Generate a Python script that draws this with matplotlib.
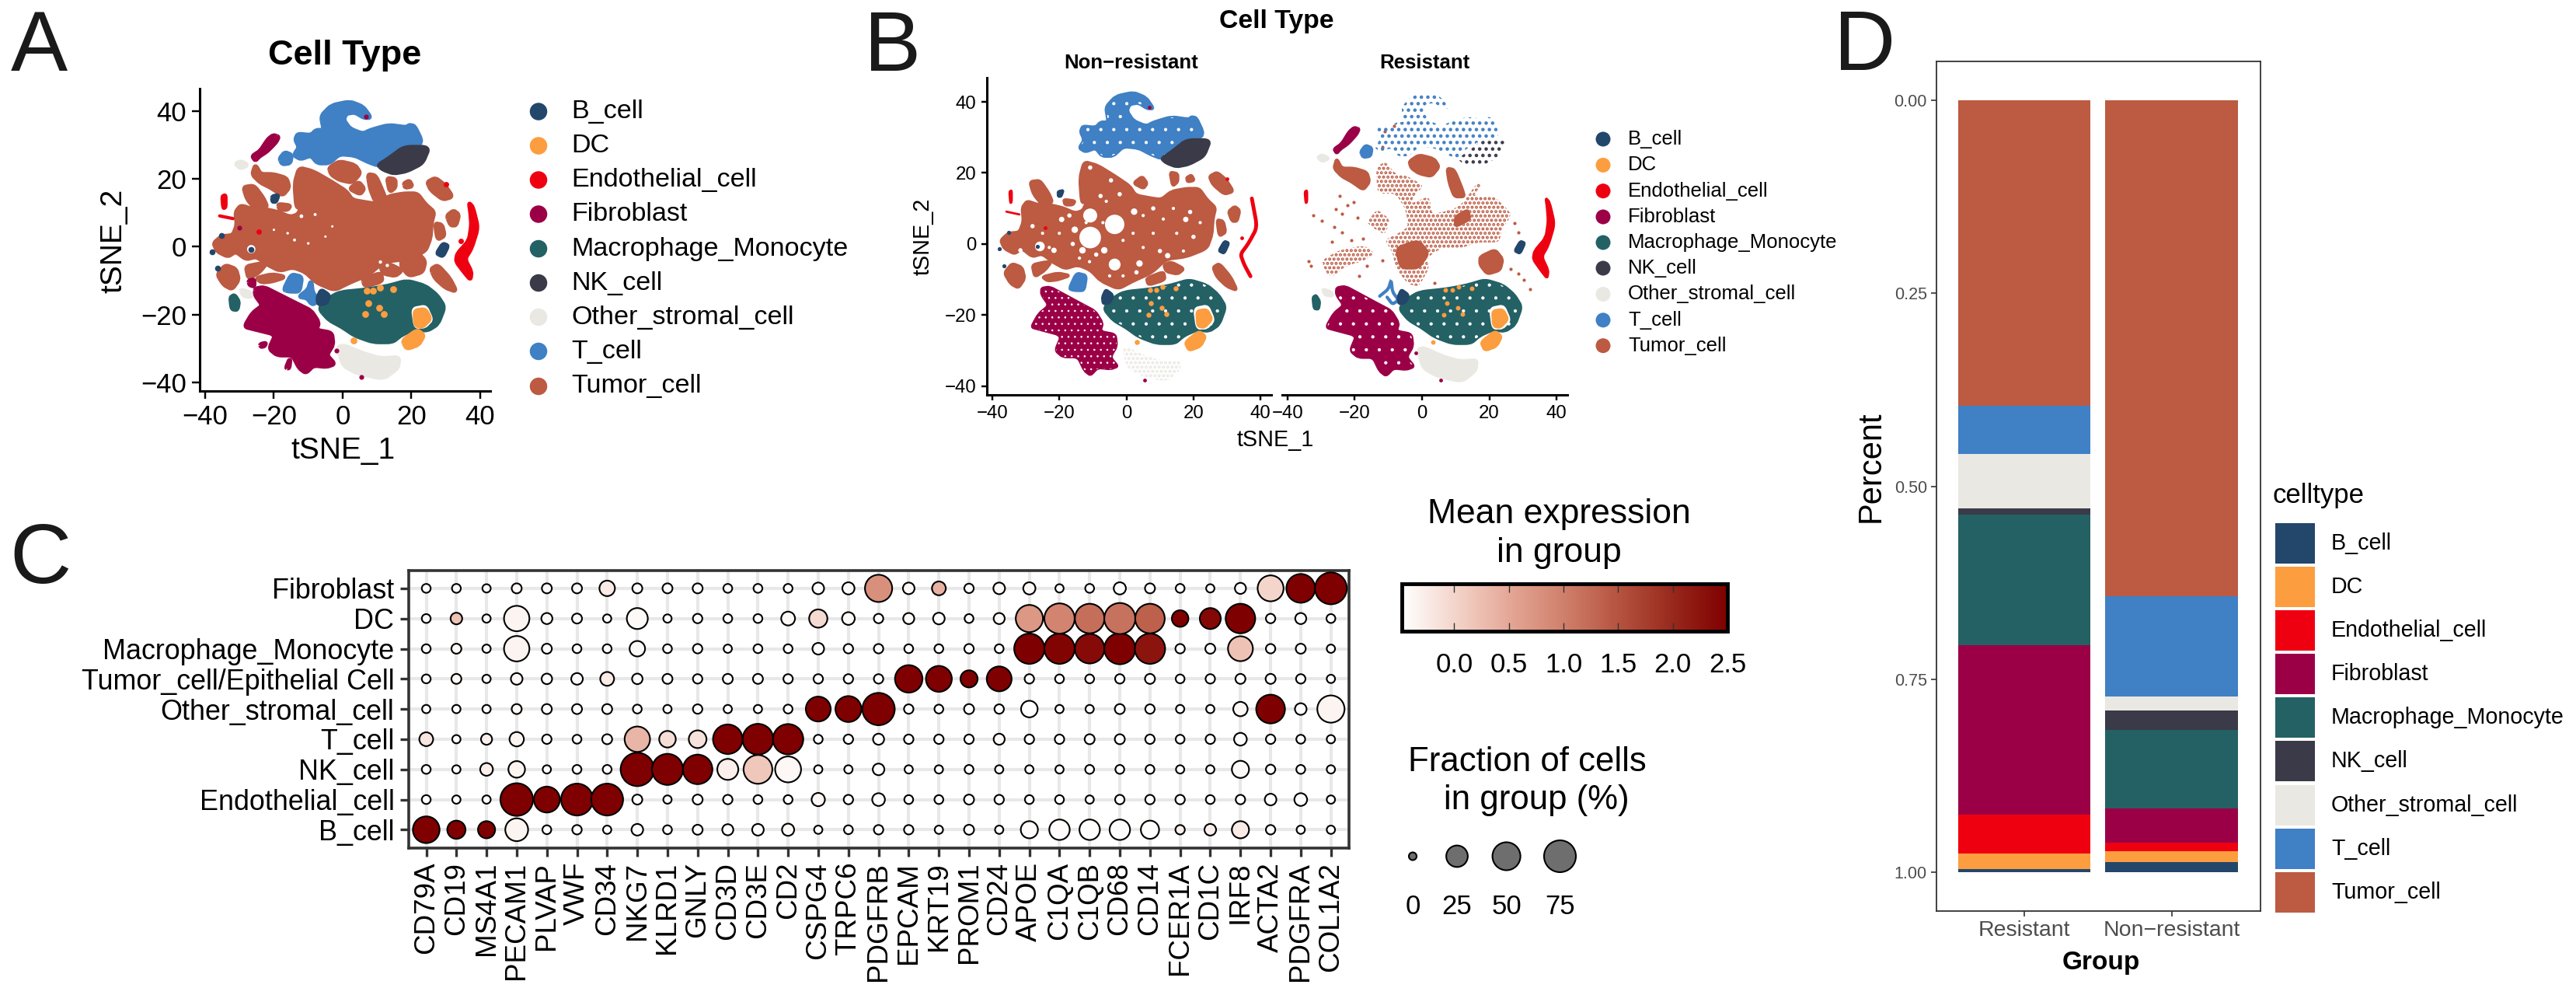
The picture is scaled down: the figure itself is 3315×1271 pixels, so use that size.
import numpy as np
import matplotlib
matplotlib.use("Agg")
import matplotlib.pyplot as plt
from matplotlib.colors import LinearSegmentedColormap
from matplotlib.patches import Rectangle, PathPatch
from matplotlib.path import Path

plt.rcParams['font.family'] = ['Liberation Sans', 'DejaVu Sans']
plt.rcParams['hatch.linewidth'] = 2.0

W, H = 3315, 1271

celltypes = ["B_cell", "DC", "Endothelial_cell", "Fibroblast", "Macrophage_Monocyte",
             "NK_cell", "Other_stromal_cell", "T_cell", "Tumor_cell"]
colors = ["#23466B", "#FC9D3F", "#EE0011", "#9B0047", "#236165",
          "#3A3A48", "#EAE8E2", "#4080C4", "#BC5A42"]
col = dict(zip(celltypes, colors))

# cluster outlines on the tSNE map
tumor_main = [(-37.5,1.0),(-35.2,3.0),(-31.9,3.3),(-30.7,6.4),(-31.1,10.2),(-29.6,12.1),(-26.2,11.0),(-22.8,11.0),
              (-19.0,10.2),(-15.3,8.7),(-13.0,9.4),(-11.9,11.7),(-13.4,11.7),(-13.9,18.6),(-12.6,23.2),(-8.5,22.1),
              (-3.2,19.0),(1.0,16.3),(2.8,13.7),(7.4,12.9),(10.4,12.5),(13.4,14.8),(17.9,15.6),(21.7,15.6),(24.0,12.5),
              (26.6,10.2),(25.8,7.1),(25.5,2.6),(24.0,-1.3),(17.9,-3.6),(11.9,-4.3),(7.4,-8.2),(2.1,-10.4),(-2.4,-12.7),
              (-7.7,-10.4),(-10.7,-7.4),(-14.5,-5.9),(-18.3,-7.0),(-22.0,-5.1),(-25.1,-2.8),(-28.1,-3.6),(-31.1,-1.3),
              (-33.4,-2.8),(-36.4,-1.3)]
tumor_t1 = [(-25.4,24.0),(-23.9,21.3),(-20.2,21.3),(-16.4,20.2),(-15.6,17.5),(-17.5,15.2),(-20.9,17.5),(-23.9,19.0),(-26.2,21.3)]
tumor_t2 = [(-28.8,17.5),(-25.8,17.9),(-23.2,14.4),(-22.0,11.7),(-25.1,11.0),(-27.7,14.0)]
tumor_oval = [(-3.9,23.2),(-0.9,25.1),(3.6,24.0),(5.1,21.7),(2.8,19.0),(-0.9,19.8),(-3.2,21.3)]
tumor_b3 = [(2.1,17.1),(4.7,19.0),(6.2,17.1),(5.1,15.6)]
tumor_strip = [(7.4,21.3),(9.6,20.9),(11.9,15.6),(12.6,13.3),(9.6,13.3),(8.1,17.1)]
tumor_b5 = [(13.0,20.2),(15.3,19.8),(15.3,17.5),(13.8,16.3)]
tumor_b6 = [(17.9,18.6),(19.4,19.4),(20.2,17.9),(18.3,17.5)]
tumor_r1 = [(24.7,19.0),(27.0,20.2),(29.6,18.2),(31.9,14.8),(29.2,14.0),(25.8,16.7)]
tumor_r2 = [(30.4,9.1),(32.3,10.6),(33.8,9.4),(33.0,6.4),(31.5,6.4)]
tumor_r3 = [(27.0,6.8),(28.9,6.4),(29.6,3.3),(27.7,2.2)]
tumor_r4 = [(17.2,-3.6),(21.7,-1.6),(24.0,-4.3),(23.2,-7.4),(19.4,-8.5),(17.2,-5.9)]
tumor_r5 = [(11.1,-5.9),(13.4,-5.1),(17.2,-7.0),(15.3,-8.5),(11.9,-7.8)]
tumor_r6 = [(5.9,-9.7),(11.1,-7.8),(11.5,-10.1),(6.6,-11.6)]
tumor_r7 = [(25.8,-6.6),(27.7,-5.5),(31.1,-9.3),(33.0,-13.1),(30.0,-12.0),(27.0,-9.3)]
tumor_l1 = [(-25.1,-9.3),(-20.5,-8.2),(-16.8,-8.9),(-20.5,-10.1),(-23.5,-10.4)]
tumor_l2 = [(-36.4,-8.2),(-34.1,-5.5),(-31.1,-6.6),(-30.3,-9.7),(-32.2,-12.4),(-34.5,-11.2)]
tumor_l3 = [(-28.1,-5.9),(-24.3,-5.1),(-22.4,-5.1),(-24.3,-7.4),(-27.3,-9.3)]
tumor_l4 = [(-18.7,12.5),(-15.3,12.1),(-16.0,11.0),(-18.3,11.0)]
# the thinner tumor areas of the resistant facet
res_main = [(-13.7,21.5),(-11,23.3),(-7.9,19.7),(-4.1,19),(0.5,16.4),(-2.5,13.5),(-3.3,11.3),(2.1,13.5),(2.9,8.4),(6.7,9.1),
            (11.3,10.6),(16.7,17.5),(17.5,16.4),(15.2,13.5),(21.4,13.5),(26.8,8.4),(23.7,4),(22.9,.4),(16,.4),(12.1,-1.1),
            (5.9,-1.1),(1.3,-4),(2.1,-6.9),(-1,-12),(-4.1,-11.3),(-7.9,-6.9),(-8.7,-2.6),(-11,1.1),(-7.9,2.6),(-4.1,4.7),
            (-4.9,9.8),(-7.9,14.2),(-13.3,14.2)]
res_mid = [(-16.4,6.2),(-13.3,9.8),(-9.5,6.9),(-11,2.6),(-14.9,4.7)]
res_ll = [(-29.9,-4.7),(-24.9,-1.8),(-17.2,-.4),(-14.1,-2.6),(-17.2,-4.7),(-22.6,-6.2),(-26.5,-9.1),(-28.4,-8.4)]
res_core = [(-7.9,-1.1),(-1,1.1),(2.1,-2.6),(-1,-6.9),(-6.4,-6.9)]
res_core2 = [(9.8,7.7),(13.7,9.8),(14.4,6.9),(9.8,4.7)]
res_dots_x = [-25.7,-24.5,-22.2,-20.3,-32.3,-29.9,-26.1,-23.8,-19.1,-23.8,-21.1,-26.9,-17.6,-33.8,-33,-18.8,-16.4,3.6,27.5,28.7,26.4,28.7,30.2,32.2,-11.8,-11.8,-11,-8.3]
res_dots_y = [9.8,13.5,10.8,11.7,8,6.6,4.7,8.4,7.3,3.3,1.1,.7,1.5,-4.9,-6.2,-9.1,-6.2,-10.9,5.8,3.3,-7.1,-8.4,-10.2,-12.8,-4.7,27.4,31.7,33.2]

t_main = [(-6.2,38.5),(-3.2,41.6),(2.1,42.7),(5.9,41.2),(8.1,38.1),(6.2,38.1),(3.6,39.7),(1.0,39.3),(0.2,37.4),(2.1,34.7),
          (5.9,33.2),(8.1,34.3),(13.4,35.8),(18.7,35.1),(19.4,35.8),(20.9,35.5),(22.8,31.6),(22.4,30.1),(17.9,29.3),(13.4,27.0),
          (10.4,24.0),(7.4,25.1),(3.6,27.0),(-0.9,27.4),(-3.9,24.7),(-7.3,24.7),(-9.2,27.0),(-12.2,25.9),(-14.1,27.0),(-12.6,29.3),
          (-13.7,31.6),(-13.0,33.2),(-9.2,32.8),(-7.7,34.3),(-5.4,34.3)]
t_small = [(-18.3,25.9),(-16.8,27.8),(-14.9,27.0),(-15.3,24.7),(-17.5,24.4)]
t_low = [(-17.1,-12.7),(-14.9,-8.2),(-11.9,-8.9),(-12.6,-13.1),(-15.3,-13.1)]
t_fork = [(-12.6,-14.7),(-10.0,-12.7),(-9.2,-10.1),(-8.8,-13.5),(-7.0,-15.8),(-8.8,-17.0),(-10.4,-15.0)]
nk_main = [(10.4,24.0),(13.4,25.9),(17.9,29.3),(25.1,29.3),(23.2,24.7),(18.7,22.4),(14.9,21.7),(11.9,22.8)]
fib_main = [(-25.4,-12.4),(-22.8,-12.0),(-18.3,-14.3),(-13.0,-17.0),(-9.2,-18.9),(-7.0,-22.3),(-7.7,-24.6),(-3.2,-25.4),(-2.8,-28.8),
            (-4.7,-31.9),(-2.4,-34.5),(-4.7,-35.3),(-8.5,-34.9),(-10.7,-37.1),(-12.6,-35.7),(-14.5,-31.9),(-19.0,-31.9),(-21.3,-30.0),
            (-19.4,-25.8),(-25.8,-24.2),(-28.5,-23.5),(-26.2,-19.6),(-23.2,-17.3),(-25.4,-14.3)]
fib_streak = [(-18.7,32.4),(-19.4,30.9),(-22.0,28.2),(-24.3,26.7),(-25.4,25.5),(-26.2,26.7),(-23.9,28.2),(-21.7,31.6),(-20.2,32.8)]
fib_s1 = [(-23.9,-28.8),(-22.4,-28.4),(-22.8,-29.2),(-23.7,-29.4)]
fib_s2 = [(-16.4,-35.7),(-15.3,-33.0),(-15.6,-35.7)]
fib_s3 = [(-27.3,-10.1),(-25.8,-9.7),(-25.8,-11.6),(-27,-11.2)]
mac_main = [(-6.6,-18.5),(-5.5,-16.2),(-0.9,-13.5),(7.4,-12.7),(13.4,-11.6),(18.7,-10.1),(24.0,-11.6),(27.4,-14.3),(29.6,-17.7),
            (27.7,-22.7),(24.7,-24.6),(21.0,-24.2),(17.2,-25.8),(14.5,-28.0),(8.9,-28.0),(3.6,-26.1),(-0.2,-23.5),(-3.9,-21.5)]
mac_small = [(-32.6,-15.0),(-31.5,-14.3),(-30.3,-16.2),(-30.7,-18.5),(-32.2,-18.3)]
dc_hole = [(20.2,-18.1),(24.3,-17.3),(26.2,-21.5),(24.0,-23.8),(21.0,-23.8)]
dc_a = [(21.0,-18.9),(24.0,-18.5),(25.5,-21.2),(23.2,-23.5),(21.3,-23.1)]
dc_b = [(17.5,-27.7),(21.7,-24.6),(23.6,-26.1),(22.1,-28.8),(18.7,-30.0)]
dc_dots_x = [7.4,6.5,10.6,11.9,14.7,8.9,7,10.8,3.2]
dc_dots_y = [-16.6,-19.9,-18,-19.8,-12.6,-13,-13,-12,-27.7]
other_main = [(-1.3,-29.6),(0.6,-29.2),(5.9,-31.5),(11.1,-33.0),(16.4,-32.6),(16.0,-35.7),(11.9,-38.8),(4.3,-37.2),(0.2,-34.9)]
other_s1 = [(-31.1,24.4),(-29.6,25.1),(-27.7,24.1),(-29.6,23.2)]
other_s2 = [(-29.6,-12.7),(-27,-13.5),(-26.6,-14.7),(-28.8,-14.4)]
endo_main = [(36.8,12.9),(37.9,11.7),(39.4,5.6),(37.5,-0.5),(35.6,-3.6),(37.5,-7.4),(37.2,-9.7),(35.3,-7.4),(33.0,-4.3),(33.4,-2.0),
             (36.8,1.8),(37.5,6.4),(37.2,10.2)]
endo_line = [(37.4,12.8),(39,4.7),(36.3,0),(34,-2.9),(35.1,-5.8),(37,-9.1)]
endo_s1 = [(-35.0,14.8),(-34.1,15.2),(-34.1,11.7),(-34.7,11.4)]
endo_s2 = [(-35.8,9.1),(-31.9,8.3)]
b_a = [(27.4,-2.0),(29.2,0.9),(30.7,0.3),(29.2,-2.8)]
b_b = [(-20.5,14.8),(-18.7,15.2),(-19.4,13.3),(-20.4,13.3)]
b_c = [(-7.3,-15.0),(-6.2,-12.7),(-3.9,-14.3),(-4.7,-16.6),(-7.0,-17.0)]
b_dots_x = [-26.6,-36.4,-37.9,-35.2]
b_dots_y = [-0.7,-6.2,-1.4,3.3]
red_dots_x = [-24.3,30,34.3]
red_dots_y = [4.5,18.4,1.8]
fib_dots_x = [-30,6.8,5.5,-1.8]
fib_dots_y = [5.6,38.4,-38.4,-30.7]
# white gaps in the tumor mass: x, y, diameter in points
gaps_x = [-3.5,-10.8,-3.5,-10.8,-25.8,-6.6,-13.1,-19.3,-15.4,2.3,12.3,17.7,3.9,-21.6,-31.6,-7.7,-4.6,-10.8,
          -20,-17,-12,-9,-6,-2,2,5,8,11,15,19,22,14,8,-1,3,-14,-25,-28,-16,-23,-11,5,10,17,-7,-1,-5,20]
gaps_y = [5.5,1.8,-5.8,8.0,-0.7,-1.8,-1.8,6.9,4.0,9.1,-3.3,6.9,-5.5,-1.8,-1.8,13.5,17.9,21.5,
          3,8,6,-3,12,14,3,-1,3,7,3,9,6,10,10,-9,-8,-4,3,5,0,-1,-5,8,-2,-2,6,1,-9,2]
gaps_d = [18,20,11,13,9,6,6,5,6,6,5,5,6,5,4,4,4,4,
          3,4,3,4,3,4,3,3,3,3,3,4,3,3,4,3,4,3,3,4,4,3,3,3,4,3,3,3,3,4]
gaps_a_x = [-26.6,-14,-12,-8,-16,-20,-3,11,13,-10,-5]
gaps_a_y = [-0.7,2,9,9.5,4,5,6,-4.5,-5.5,1,3]

# panel C
groups = ["B_cell", "Endothelial_cell", "NK_cell", "T_cell", "Other_stromal_cell",
          "Tumor_cell/Epithelial Cell", "Macrophage_Monocyte", "DC", "Fibroblast"]
genes = ["CD79A","CD19","MS4A1","PECAM1","PLVAP","VWF","CD34","NKG7","KLRD1","GNLY","CD3D","CD3E","CD2","CSPG4","TRPC6","PDGFRB",
         "EPCAM","KRT19","PROM1","CD24","APOE","C1QA","C1QB","CD68","CD14","FCER1A","CD1C","IRF8","ACTA2","PDGFRA","COL1A2"]
frac_b = [45,19,17,30,2,3,1,7,2,4,6,7,8,1,2,3,3,1,4,1,17,23,23,23,19,3,7,17,3,1,1]
frac_endo = [2,1,1,80,42,75,75,4,1,4,3,2,2,10,3,9,2,2,4,3,2,2,1,3,3,3,2,3,7,9,1]
frac_nk = [2,1,9,16,1,2,2,85,70,60,24,55,42,1,1,7,1,1,2,1,1,1,2,2,2,1,1,17,3,2,1]
frac_t = [11,1,6,12,3,2,4,40,16,18,60,68,65,2,3,6,3,3,3,6,3,3,4,4,3,2,3,9,3,2,1]
frac_other = [1,1,1,4,4,4,4,2,1,3,1,1,2,38,42,78,3,2,4,3,16,1,1,4,3,1,1,12,55,7,47]
frac_tumor = [2,4,1,7,5,7,11,5,4,3,4,4,3,3,3,3,48,42,17,38,3,2,2,3,4,2,3,4,4,3,1]
frac_mac = [2,4,1,40,4,2,2,14,2,3,1,2,2,7,3,3,2,2,3,2,65,65,60,70,65,3,4,38,3,4,1]
frac_dc = [2,7,1,40,6,4,1,24,1,3,2,2,11,19,9,3,6,7,2,6,47,65,60,70,60,16,24,60,3,6,2]
frac_fib = [2,2,1,4,4,4,14,4,4,4,2,2,2,7,8,47,7,11,3,7,8,1,2,8,4,2,1,6,42,55,75]
expr_b = [2.5,2.5,2.5,-.35,-.47,-.47,-.47,-.45,-.47,-.45,-.45,-.45,-.4,-.47,-.47,-.47,-.47,-.47,-.47,-.47,-.43,-.43,-.45,-.45,-.45,-.3,-.3,-.25,-.45,-.47,-.47]
expr_endo = [-.47,-.47,-.47,2.5,2.5,2.5,2.5,-.47,-.47,-.45,-.47,-.47,-.47,-.38,-.47,-.45,-.47,-.47,-.47,-.47,-.47,-.47,-.47,-.47,-.47,-.47,-.47,-.47,-.47,-.47,-.47]
expr_nk = [-.47,-.47,-.3,-.35,-.47,-.47,-.47,2.5,2.5,2.5,-.3,.15,-.38,-.47,-.47,-.45,-.47,-.47,-.47,-.47,-.47,-.47,-.47,-.47,-.47,-.47,-.47,-.4,-.47,-.47,-.47]
expr_t = [-.2,-.47,-.3,-.35,-.45,-.45,-.4,.35,-.1,-.15,2.5,2.5,2.5,-.47,-.47,-.47,-.47,-.47,-.47,-.4,-.47,-.47,-.47,-.47,-.47,-.47,-.47,-.45,-.47,-.47,-.47]
expr_other = [-.47,-.47,-.47,-.4,-.45,-.45,-.4,-.47,-.47,-.45,-.47,-.47,-.47,2.5,2.5,2.5,-.47,-.47,-.47,-.47,-.47,-.47,-.47,-.47,-.47,-.47,-.47,-.38,2.5,-.45,-.35]
expr_tumor = [-.45,-.4,-.45,-.38,-.45,-.42,-.25,-.45,-.45,-.45,-.45,-.45,-.45,-.45,-.45,-.45,2.5,2.5,2.5,2.5,-.45,-.47,-.47,-.47,-.47,-.47,-.47,-.47,-.47,-.47,-.47]
expr_mac = [-.45,-.4,-.45,-.35,-.45,-.45,-.45,-.4,-.47,-.45,-.47,-.47,-.45,-.45,-.45,-.45,-.45,-.45,-.45,-.45,2.5,2.45,2.35,2.5,2.25,-.45,-.45,.2,-.47,-.47,-.47]
expr_dc = [-.4,.2,-.45,-.35,-.4,-.45,-.45,-.4,-.47,-.45,-.47,-.47,-.4,-.05,-.4,-.45,-.4,-.45,-.45,-.4,.7,.95,1.2,1.15,1.35,2.5,2.4,2.5,-.45,-.45,-.45]
expr_fib = [-.45,-.45,-.45,-.38,-.4,-.4,-.25,-.45,-.45,-.45,-.47,-.47,-.45,-.45,-.4,.8,-.4,.4,-.45,-.4,-.4,-.45,-.45,-.45,-.45,-.45,-.45,-.45,0,2.5,2.5]
frac_all = np.array([frac_b, frac_endo, frac_nk, frac_t, frac_other, frac_tumor, frac_mac, frac_dc, frac_fib])
expr_all = np.array([expr_b, expr_endo, expr_nk, expr_t, expr_other, expr_tumor, expr_mac, expr_dc, expr_fib])
expr_ticks = [0.0, 0.5, 1.0, 1.5, 2.0, 2.5]
size_fracs = [0, 25, 50, 75]

# panel D, top of the stack first
bar_groups = ["Resistant", "Non\u2212resistant"]
stack_order = ["Tumor_cell", "T_cell", "Other_stromal_cell", "NK_cell", "Macrophage_Monocyte",
               "Fibroblast", "Endothelial_cell", "DC", "B_cell"]
pct_resistant = [.396, .062, .070, .009, .169, .219, .051, .020, .004]
pct_nonresistant = [.642, .130, .018, .025, .102, .044, .011, .015, .013]


def add_ax(left, top, right, bottom):
    return fig.add_axes([left / W, 1 - bottom / H, (right - left) / W, (bottom - top) / H])


def rounded(pts, closed=True, cut=0.3):
    # straight runs with a quadratic corner at each outline point
    p = np.array(pts, dtype=float)
    n = len(p)
    idx = range(n) if closed else range(1, n - 1)
    verts, codes = [], []
    for i in idx:
        a = p[i] + cut * (p[i - 1] - p[i])
        b = p[i] + cut * (p[(i + 1) % n] - p[i])
        verts += [a, p[i], b]
        codes += [Path.LINETO, Path.CURVE3, Path.CURVE3]
    if closed:
        codes[0] = Path.MOVETO
        verts.append(verts[0])
        codes.append(Path.LINETO)
    else:
        verts = [p[0]] + verts + [p[-1]]
        codes = [Path.MOVETO] + codes + [Path.LINETO]
    return Path(verts, codes)


def blob(ax, pts, name, style="solid", lw=4.5):
    c = col.get(name, name)
    if style in ("solid", "speck", "holes"):
        ax.add_patch(PathPatch(rounded(pts), fc=c, ec=c, lw=lw, joinstyle="round"))
        if style != "solid":
            holes = PathPatch(rounded(pts), fc="none", ec="white", hatch="." if style == "speck" else "..", lw=0)
            if hasattr(holes, "set_hatch_linewidth"):
                holes.set_hatch_linewidth(0.6)
            ax.add_patch(holes)
    else:
        ax.add_patch(PathPatch(rounded(pts), fc="none", ec=c, hatch=style, lw=0))


def stroke(ax, pts, name, lw):
    ax.add_patch(PathPatch(rounded(pts, closed=False), fc="none", ec=col[name], lw=lw, capstyle="round"))


def tsne_axes(ax, xlim, ylim, fs, lw, tl):
    ax.set_xlim(*xlim)
    ax.set_ylim(*ylim)
    ax.spines[["top", "right"]].set_visible(False)
    ax.spines[["left", "bottom"]].set_linewidth(lw)
    ax.set_xticks([-40, -20, 0, 20, 40])
    ax.set_yticks([-40, -20, 0, 20, 40])
    ax.tick_params(labelsize=fs, width=lw * 0.8, length=tl, pad=5)


def frac_to_size(f):
    d = np.interp(f, [0, 25, 50, 75, 90], [10, 27.7, 36, 41, 44])
    return (d * 0.72) ** 2


fig = plt.figure(figsize=(W / 100, H / 100), dpi=100)
ov = fig.add_axes([0, 0, 1, 1])
ov.set_xlim(0, W)
ov.set_ylim(H, 0)
ov.axis("off")

for letter, lx, ly in [("A", 14, 91), ("B", 1112, 91), ("C", 12, 750), ("D", 2360, 90)]:
    ov.text(lx, ly, letter, fontsize=79, color="#1a1a1a", va="baseline", ha="left")

# ---- panel A
axa = add_ax(257, 114, 631, 503)
tsne_axes(axa, (-41.6, 43), (-42.5, 46.6), 25, 2.2, 7)
for p in [tumor_main, tumor_t1, tumor_t2, tumor_oval, tumor_b3, tumor_strip, tumor_b5, tumor_b6, tumor_r1, tumor_r2,
          tumor_r3, tumor_r4, tumor_r5, tumor_r6, tumor_r7, tumor_l1, tumor_l2, tumor_l3, tumor_l4]:
    blob(axa, p, "Tumor_cell")
axa.scatter(gaps_a_x, gaps_a_y, s=[60, 8, 12, 8, 6, 5, 5, 10, 10, 6, 5], c="white", lw=0)
for p in [t_main, t_small, t_low, t_fork]:
    blob(axa, p, "T_cell")
blob(axa, nk_main, "NK_cell")
for p in [fib_main, fib_streak, fib_s1, fib_s2, fib_s3]:
    blob(axa, p, "Fibroblast")
blob(axa, mac_main, "Macrophage_Monocyte")
blob(axa, mac_small, "Macrophage_Monocyte")
blob(axa, dc_hole, "white", lw=2)
blob(axa, dc_a, "DC")
blob(axa, dc_b, "DC")
axa.scatter(dc_dots_x, dc_dots_y, s=40, c=col["DC"], lw=0)
for p in [other_main, other_s1, other_s2]:
    blob(axa, p, "Other_stromal_cell")
for p in [endo_main, endo_s1]:
    blob(axa, p, "Endothelial_cell", lw=4)
stroke(axa, endo_s2, "Endothelial_cell", 3)
for p in [b_a, b_b, b_c]:
    blob(axa, p, "B_cell", lw=4)
axa.scatter(b_dots_x, b_dots_y, s=30, c=col["B_cell"], lw=0)
axa.scatter(red_dots_x, red_dots_y, s=25, c=col["Endothelial_cell"], lw=0)
axa.scatter(fib_dots_x, fib_dots_y, s=20, c=col["Fibroblast"], lw=0)
ov.text(443.5, 71, "Cell Type", fontsize=32.5, fontweight="bold", ha="center", va="center")
ov.text(441, 580, "tSNE_1", fontsize=28, ha="center", va="center")
ov.text(146, 310, "tSNE_2", fontsize=28, rotation=90, ha="center", va="center")
legend_a_y = [143.5, 187.5, 231.5, 275.5, 320, 364, 408, 452, 497]
ov.scatter([693] * 9, legend_a_y, s=(22.5 * 0.72) ** 2, c=colors, lw=0)
for name, yy in zip(celltypes, legend_a_y):
    ov.text(735.5, yy, name, fontsize=24.6, va="center")

# ---- panel B, non-resistant facet
axb = add_ax(1270, 100, 1636, 507.5)
axr = add_ax(1650, 100, 2017, 507.5)
xlim_b = (-41.6, 43.2)
ylim_b = (-42.4, 46.8)
tsne_axes(axb, xlim_b, ylim_b, 17.3, 2.2, 5)
tsne_axes(axr, xlim_b, ylim_b, 17.3, 2.2, 5)
axr.spines["left"].set_visible(False)
axr.tick_params(left=False, labelleft=False)

for p in [tumor_main, tumor_t2, tumor_b3, tumor_b5, tumor_b6, tumor_r1, tumor_r2, tumor_r3, tumor_r5, tumor_r6,
          tumor_r7, tumor_l1, tumor_l2, tumor_l3, tumor_l4]:
    blob(axb, p, "Tumor_cell", lw=3)
axb.scatter(gaps_x, gaps_y, s=np.array(gaps_d) ** 2, c="white", lw=0)
blob(axb, t_main, "T_cell", style="speck", lw=3)
blob(axb, t_low, "T_cell", lw=3)
blob(axb, nk_main, "NK_cell", lw=3)
blob(axb, fib_main, "Fibroblast", style="holes", lw=2)
blob(axb, mac_main, "Macrophage_Monocyte", style="speck", lw=3)
blob(axb, dc_hole, "white", lw=2)
blob(axb, dc_a, "DC", lw=3)
blob(axb, dc_b, "DC", lw=3)
axb.scatter(dc_dots_x, dc_dots_y, s=22, c=col["DC"], lw=0)
blob(axb, other_main, "Other_stromal_cell", style="...")
stroke(axb, endo_line, "Endothelial_cell", 3.5)
blob(axb, endo_s1, "Endothelial_cell", lw=1.5)
stroke(axb, endo_s2, "Endothelial_cell", 2)
blob(axb, b_a, "B_cell", lw=2)
blob(axb, b_b, "B_cell", lw=2)
blob(axb, b_c, "B_cell", lw=2)
axb.scatter(b_dots_x, b_dots_y, s=14, c=col["B_cell"], lw=0)
axb.scatter(red_dots_x, red_dots_y, s=12, c=col["Endothelial_cell"], lw=0)
axb.scatter(fib_dots_x[1:3], fib_dots_y[1:3], s=12, c=col["Fibroblast"], lw=0)

# ---- panel B, resistant facet
for p in [tumor_t1, tumor_oval, tumor_strip, tumor_r4]:
    blob(axr, p, "Tumor_cell", lw=3)
for p in [res_main, res_mid, res_ll]:
    blob(axr, p, "Tumor_cell", style="...")
for p in [res_core, res_core2]:
    blob(axr, p, "Tumor_cell", lw=2)
axr.scatter(res_dots_x, res_dots_y, s=9, c=col["Tumor_cell"], lw=0)
blob(axr, t_main, "T_cell", style="..")
blob(axr, t_small, "T_cell", lw=3)
stroke(axr, t_fork, "T_cell", 3)
blob(axr, nk_main, "NK_cell", style="..")
blob(axr, fib_main, "Fibroblast", style="speck", lw=3)
blob(axr, fib_streak, "Fibroblast", lw=3)
blob(axr, mac_main, "Macrophage_Monocyte", style="speck", lw=3)
blob(axr, mac_small, "Macrophage_Monocyte", lw=2)
blob(axr, dc_hole, "white", lw=2)
blob(axr, dc_a, "DC", lw=3)
blob(axr, dc_b, "DC", lw=3)
axr.scatter(dc_dots_x, dc_dots_y, s=18, c=col["DC"], lw=0)
blob(axr, other_main, "Other_stromal_cell", lw=3)
blob(axr, other_s1, "Other_stromal_cell", lw=3)
blob(axr, other_s2, "Other_stromal_cell", lw=3)
blob(axr, endo_main, "Endothelial_cell", lw=2.5)
blob(axr, endo_s1, "Endothelial_cell", lw=1.5)
blob(axr, b_a, "B_cell", lw=2)
blob(axr, b_c, "B_cell", lw=2)
axr.scatter(fib_dots_x[2:], fib_dots_y[2:], s=12, c=col["Fibroblast"], lw=0)

ov.text(1643, 27.5, "Cell Type", fontsize=24.3, fontweight="bold", ha="center", va="center")
ov.text(1456, 81, "Non\u2212resistant", fontsize=18.5, fontweight="bold", ha="center", va="center")
ov.text(1833.5, 81, "Resistant", fontsize=18.5, fontweight="bold", ha="center", va="center")
ov.text(1641.5, 565.6, "tSNE_1", fontsize=20.7, ha="center", va="center")
ov.text(1188, 304, "tSNE_2", fontsize=20.7, rotation=90, ha="center", va="center")
legend_b_y = [179, 212.4, 245.7, 279, 312, 345, 378.5, 411.8, 444.7]
ov.scatter([2063] * 9, legend_b_y, s=(19 * 0.72) ** 2, c=colors, lw=0)
for name, yy in zip(celltypes, legend_b_y):
    ov.text(2095, yy, name, fontsize=18.5, va="center")

# ---- panel C
cmap_expr = LinearSegmentedColormap.from_list(
    "expr", ["#ffffff", "#f3d3c9", "#e4a695", "#cf7f6b", "#b5533f", "#98281c", "#7f0000"])
axc = add_ax(525.5, 733.6, 1736, 1090.8)
gx, gy = np.meshgrid(np.arange(len(genes)), np.arange(len(groups)))
dots = axc.scatter(gx.ravel(), gy.ravel(), s=frac_to_size(frac_all.ravel()), c=expr_all.ravel(),
                   cmap=cmap_expr, vmin=-0.48, vmax=2.5, edgecolors="black", linewidths=1.5, zorder=3, clip_on=False)
axc.set_xlim(-0.593, 30.6)
axc.set_ylim(-0.603, 8.6)
axc.set_xticks(range(len(genes)))
axc.set_xticklabels(genes, rotation=90, fontsize=26.5)
axc.set_yticks(range(len(groups)))
axc.set_yticklabels(groups, fontsize=25.8)
axc.tick_params(width=2.4, length=8, color="#333333", pad=5)
axc.grid(color="#e8e8e8", lw=3)
axc.set_axisbelow(True)
for s in axc.spines.values():
    s.set_linewidth(2.6)
    s.set_color("#333333")

ov.text(2006, 662, "Mean expression", fontsize=32, ha="center", va="center")
ov.text(2006, 711, "in group", fontsize=32, ha="center", va="center")
cax = add_ax(1804, 751, 2223, 811.6)
cb = fig.colorbar(dots, cax=cax, orientation="horizontal", ticks=expr_ticks)
cb.ax.set_xticklabels(["%.1f" % t for t in expr_ticks], fontsize=25)
cb.ax.tick_params(direction="in", top=True, bottom=True, length=8, width=1, color="#333333", pad=20)
cb.outline.set_linewidth(3.5)

ov.text(1965, 981, "Fraction of cells", fontsize=31.5, ha="center", va="center")
ov.text(1977, 1030, "in group (%)", fontsize=31.5, ha="center", va="center")
size_x = [1818, 1875, 1938.6, 2007.5]
ov.scatter(size_x, [1101.5] * 4, s=frac_to_size(np.array(size_fracs)), c="#6e6e6e", edgecolors="black", linewidths=1.5)
for xx, f in zip(size_x, size_fracs):
    ov.text(xx, 1167, str(f), fontsize=25, ha="center", va="center")

# ---- panel D
axd = add_ax(2491.6, 79.4, 2908.8, 1172)
bottom = np.zeros(2)
for i, name in enumerate(stack_order):
    h = np.array([pct_resistant[i], pct_nonresistant[i]])
    axd.bar([0, 1], h, bottom=bottom, width=0.9, color=col[name], lw=0)
    bottom += h
axd.set_xlim(-0.597, 1.6)
axd.set_ylim(1.05, -0.05)
axd.set_xticks([0, 1])
axd.set_xticklabels(bar_groups, fontsize=20.5, color="#4d4d4d")
axd.set_yticks([0, .25, .5, .75, 1])
axd.set_yticklabels(["0.00", "0.25", "0.50", "0.75", "1.00"], fontsize=15.5, color="#4d4d4d")
axd.tick_params(color="#333333", width=1.2, length=5)
for s in axd.spines.values():
    s.set_linewidth(1.3)
    s.set_color("#333333")
ov.text(2704, 1238, "Group", fontsize=24, fontweight="bold", ha="center", va="center")
ov.text(2408, 600, "Percent", fontsize=30, rotation=90, ha="center", va="center")
ov.text(2925, 638, "celltype", fontsize=25, ha="left", va="center")
legend_d_y = [698.7, 754.6, 811.4, 867, 923, 979, 1036, 1092, 1148]
for name, yy in zip(celltypes, legend_d_y):
    ov.add_patch(Rectangle((2927.5, yy - 26), 51.5, 52, fc=col[name], lw=0))
    ov.text(3000, yy, name, fontsize=20.6, va="center")

fig.savefig("out.png", dpi=100)
